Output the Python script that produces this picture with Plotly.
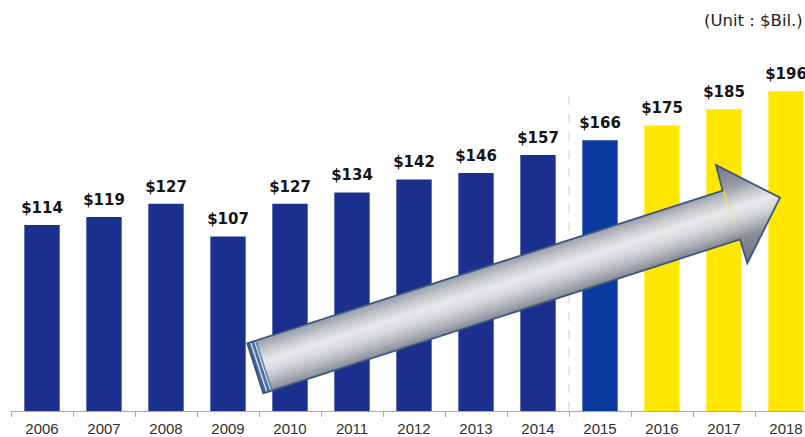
import plotly.graph_objects as go

# ---------------- data ----------------
years = ["2006", "2007", "2008", "2009", "2010", "2011", "2012",
         "2013", "2014", "2015", "2016", "2017", "2018"]
values = [114, 119, 127, 107, 127, 134, 142, 146, 157, 166, 175, 185, 196]
segment = ["past"] * 9 + ["current"] + ["forecast"] * 3
unit_label = "(Unit : $Bil.)"

# ---------------- styles ----------------
seg_colors = {"past": "#1b2f8e", "current": "#0b3a9e", "forecast": "#ffe800"}
bar_colors = [seg_colors[s] for s in segment]

W, H = 805, 437
ML, MR, MT, MB = 11, 0, 0, 26
PW, PH = W - ML - MR, H - MT - MB
CAT_PX = 62.0
x_range = [-0.5, -0.5 + PW / CAT_PX]
y_range = [0, 252]

fig = go.Figure()
fig.add_trace(go.Bar(
    x=years, y=values, marker=dict(color=bar_colors, line=dict(width=0)),
    hoverinfo="x+y", showlegend=False,
))

# value labels
fig.add_trace(go.Scatter(
    x=years, y=values, mode="markers+text",
    marker=dict(size=12, color="rgba(0,0,0,0)"),
    text=[f"<b>${v}</b>" for v in values], textposition="top center",
    textfont=dict(family="DejaVu Sans", size=15, color="#151515"),
    cliponaxis=False, hoverinfo="skip", showlegend=False,
))

# unit label
fig.add_annotation(
    x=1.0, y=(H - MB - 20) / PH, xref="paper", yref="paper",
    xanchor="right", yanchor="middle", text=unit_label, showarrow=False,
    font=dict(family="DejaVu Sans", size=16.5, color="#222222"),
)

# dashed separator between actual and current
fig.add_shape(type="line", x0=8.5, x1=8.5, y0=0, y1=196, xref="x", yref="y",
              line=dict(color="#cfcfcf", width=1, dash="dash"), layer="below")

# ---------------- decorative trend arrow (pixel geometry) ----------------
def to_paper(p):
    return ((p[0] - ML) / PW, (MT + PH - p[1]) / PH)

def path_of(poly):
    pts = [to_paper(p) for p in poly]
    return "M " + " L ".join(f"{x:.5f},{y:.5f}" for x, y in pts) + " Z"

def clip(poly, f):
    out = []
    n = len(poly)
    for i in range(n):
        A, B = poly[i], poly[(i + 1) % n]
        fa, fb = f(A), f(B)
        if fa >= 0:
            out.append(A)
        if (fa >= 0) != (fb >= 0):
            t = fa / (fa - fb)
            out.append((A[0] + t * (B[0] - A[0]), A[1] + t * (B[1] - A[1])))
    return out

TL, NT, BT, TIP, BB, NB, BR = (247.3, 343.3), (722.7, 190.7), (716, 165), \
    (780, 197.7), (747.3, 263.3), (740, 239.3), (263.3, 393.3)
T0 = ((TL[0] + BR[0]) / 2, (TL[1] + BR[1]) / 2)
dx, dy = TIP[0] - T0[0], TIP[1] - T0[1]
L = (dx * dx + dy * dy) ** 0.5
ux, uy = dx / L, dy / L
nx, ny = -uy, ux

def s_of(p):
    return (p[0] - T0[0]) * nx + (p[1] - T0[1]) * ny

def t_of(p):
    return (p[0] - T0[0]) * ux + (p[1] - T0[1]) * uy

stops = [(-54, (112, 118, 132)), (-26, (150, 155, 165)), (-16, (192, 195, 201)),
         (-4, (234, 234, 236)), (6, (216, 217, 221)), (18, (172, 176, 183)),
         (26, (136, 141, 151)), (54, (108, 114, 128))]

def col(s):
    if s <= stops[0][0]:
        c = stops[0][1]
    elif s >= stops[-1][0]:
        c = stops[-1][1]
    else:
        for (s0, c0), (s1, c1) in zip(stops, stops[1:]):
            if s0 <= s <= s1:
                k = (s - s0) / (s1 - s0)
                c = tuple(c0[i] + k * (c1[i] - c0[i]) for i in range(3))
                break
    return "rgb(%d,%d,%d)" % tuple(int(round(v)) for v in c)

shaft = [TL, NT, NB, BR]
head = [BT, TIP, BB]
step = 2.0
s = -54.0
while s < 54:
    s0, s1 = s, s + step + 0.7
    for part in (shaft, head):
        poly = clip(part, lambda p, a=s0: s_of(p) - a)
        poly = clip(poly, lambda p, b=s1: b - s_of(p))
        if len(poly) >= 3:
            fig.add_shape(type="path", path=path_of(poly), xref="paper", yref="paper",
                          fillcolor=col(s + step / 2), line=dict(width=0), layer="above")
    s += step

# tail cap stripes
cap = [(0, 3.0, "#44669a"), (3.0, 4.4, "#d6dce6"), (4.4, 7.2, "#4d6f9f"),
       (7.2, 8.2, "#e2e6ec"), (8.2, 9.8, "#6684ad")]
for a, b, c in cap:
    poly = clip(shaft, lambda p, a=a: t_of(p) - a)
    poly = clip(poly, lambda p, b=b: b - t_of(p))
    if len(poly) >= 3:
        fig.add_shape(type="path", path=path_of(poly), xref="paper", yref="paper",
                      fillcolor=c, line=dict(width=0), layer="above")

# outline
fig.add_shape(type="path", path=path_of([TL, NT, BT, TIP, BB, NB, BR]),
              xref="paper", yref="paper", fillcolor="rgba(0,0,0,0)",
              line=dict(color="#3b5780", width=1.8), layer="above")

fig.update_layout(
    width=W, height=H, margin=dict(l=ML, r=MR, t=MT, b=MB, autoexpand=False),
    paper_bgcolor="white", plot_bgcolor="white", bargap=0.43, showlegend=False,
    xaxis=dict(range=x_range, type="category", showline=True, linecolor="#a8a8a8",
               linewidth=1, ticks="outside", tickson="boundaries", ticklen=5,
               tickcolor="#a8a8a8", showgrid=False, zeroline=False,
               ticklabelstandoff=4,
               tickfont=dict(family="Liberation Sans", size=15, color="#303030")),
    yaxis=dict(range=y_range, visible=False, showgrid=False, zeroline=False),
)

fig.write_html("out.html", config={"displayModeBar": False},
               post_script="document.body.style.margin='0';document.body.style.overflow='hidden';")
